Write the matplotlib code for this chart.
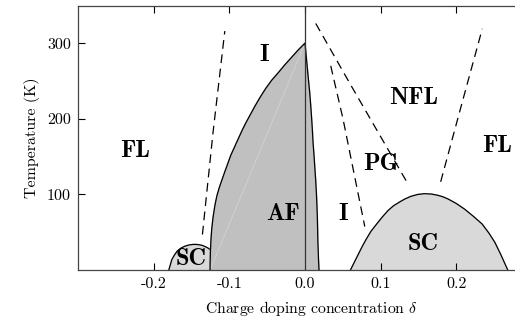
import matplotlib
matplotlib.use("Agg")
import matplotlib.pyplot as plt

# ---------------------------------------------------------------
# Data
# ---------------------------------------------------------------

# antiferromagnetic dome, left boundary (bottom -> top) and right boundary (top -> bottom)
af_left_d = [-0.1255, -0.1254, -0.1250, -0.1243, -0.1232, -0.1215, -0.119, -0.1165,
             -0.113, -0.1095, -0.106, -0.102, -0.098, -0.093, -0.088, -0.083, -0.078,
             -0.072, -0.066, -0.059, -0.052, -0.044, -0.0353, -0.027, -0.018, -0.009, 0.0]
af_left_t = [0, 10, 25, 40, 55, 70, 86, 98, 110, 120, 130, 141, 152, 163, 174, 185, 195,
             206, 217, 229, 240, 251, 261, 271, 281, 291, 300]
af_right_d = [0.0, 0.0015, 0.003, 0.0046, 0.0062, 0.0076, 0.0088, 0.0098, 0.0106, 0.0119,
              0.013, 0.0141, 0.015, 0.0157, 0.0163, 0.0167, 0.017, 0.0175, 0.0178, 0.0182, 0.0185]
af_right_t = [300, 284, 268, 251, 235, 217, 200, 184, 169, 152, 135, 119, 103, 87, 70, 54,
              38, 25, 15, 7, 0]

# superconducting domes
sc_left_d = [-0.180, -0.178, -0.176, -0.1725, -0.169, -0.164, -0.159, -0.153, -0.147, -0.142,
             -0.137, -0.1325, -0.128, -0.124, -0.121, -0.118, -0.116, -0.114, -0.112]
sc_left_t = [0, 7, 14, 20, 25, 29, 31.5, 33.3, 34, 33.8, 33, 31.3, 29, 26, 22, 18, 14, 8, 0]
sc_right_d = [0.060, 0.065, 0.070, 0.0755, 0.081, 0.087, 0.094, 0.102, 0.110, 0.117, 0.125,
              0.132, 0.140, 0.149, 0.158, 0.167, 0.175, 0.182, 0.189, 0.200, 0.211, 0.222,
              0.234, 0.243, 0.251, 0.259, 0.268]
sc_right_t = [0, 10, 20, 31, 41, 51, 60, 70, 79, 85, 90, 94, 97.5, 100, 101, 100.5, 99, 97,
              94, 88, 80.5, 71.5, 61, 49, 36.5, 20, 0]

# dashed crossover lines
cross_lines = [
    ([-0.1356, -0.1215, -0.106], [47, 182.5, 316]),
    ([0.0142, 0.0591, 0.134], [326, 247, 117.5]),
    ([0.034, 0.0502, 0.079], [270, 200, 57.5]),
    ([0.1793, 0.2066, 0.2343], [116.7, 217.5, 319]),
]

# region labels
labels = ["FL", "I", "AF", "SC", "I", "PG", "NFL", "FL", "SC"]
label_d = [-0.225, -0.054, -0.029, -0.150, 0.050, 0.100, 0.143, 0.254, 0.156]
label_t = [158, 284, 74, 14, 74, 140, 228, 164, 35]

x_ticks = [-0.2, -0.1, 0.0, 0.1, 0.2]
y_ticks = [100, 200, 300]

# ---------------------------------------------------------------
# Plot
# ---------------------------------------------------------------

plt.rcParams['font.family'] = ['cmr10', 'DejaVu Serif']
plt.rcParams['mathtext.fontset'] = 'cm'
plt.rcParams['axes.unicode_minus'] = False

fig = plt.figure(figsize=(5.15, 3.2), dpi=100)
ax = fig.add_axes([0.1515, 0.156, 0.905, 0.825])

ax.fill(sc_left_d, sc_left_t, color='#d9d9d9', zorder=1)
ax.plot(sc_left_d, sc_left_t, color='black', lw=0.9, zorder=1)
ax.fill(sc_right_d, sc_right_t, color='#d9d9d9', zorder=1)
ax.plot(sc_right_d, sc_right_t, color='black', lw=0.9, zorder=1)

af_d = af_left_d + af_right_d
af_t = af_left_t + af_right_t
ax.fill(af_d, af_t, color='#c0c0c0', zorder=2)
ax.plot(af_d, af_t, color='black', lw=0.9, zorder=3)
ax.plot([af_left_d[0], 0.0], [0, 300], color='#d6d6d6', lw=0.5, zorder=2)

ax.axvline(0.0, color='#333333', lw=0.9, zorder=3)

for d, t in cross_lines:
    ax.plot(d, t, color='black', lw=0.9, linestyle=(0, (7, 4.5)), zorder=3)

for lab, d, t in zip(labels, label_d, label_t):
    ax.text(d, t, lab, family='cmb10', fontsize=17.5, ha='center', va='center', zorder=4)

ax.set_xlim(-0.3, 0.316)
ax.set_ylim(0, 349)
ax.set_xticks(x_ticks)
ax.set_xticklabels(["%.1f" % v for v in x_ticks])
ax.set_yticks(y_ticks)
ax.tick_params(direction='in', length=5, width=0.8, labelsize=11.5, top=True, pad=5)
for s in ax.spines.values():
    s.set_color('#444444')
    s.set_linewidth(0.9)

ax.set_xlabel(r"Charge doping concentration $\delta$", fontsize=11.3, labelpad=6)
ax.set_ylabel("Temperature (K)", fontsize=11.5, labelpad=5)

fig.savefig("out.png", dpi=100)
